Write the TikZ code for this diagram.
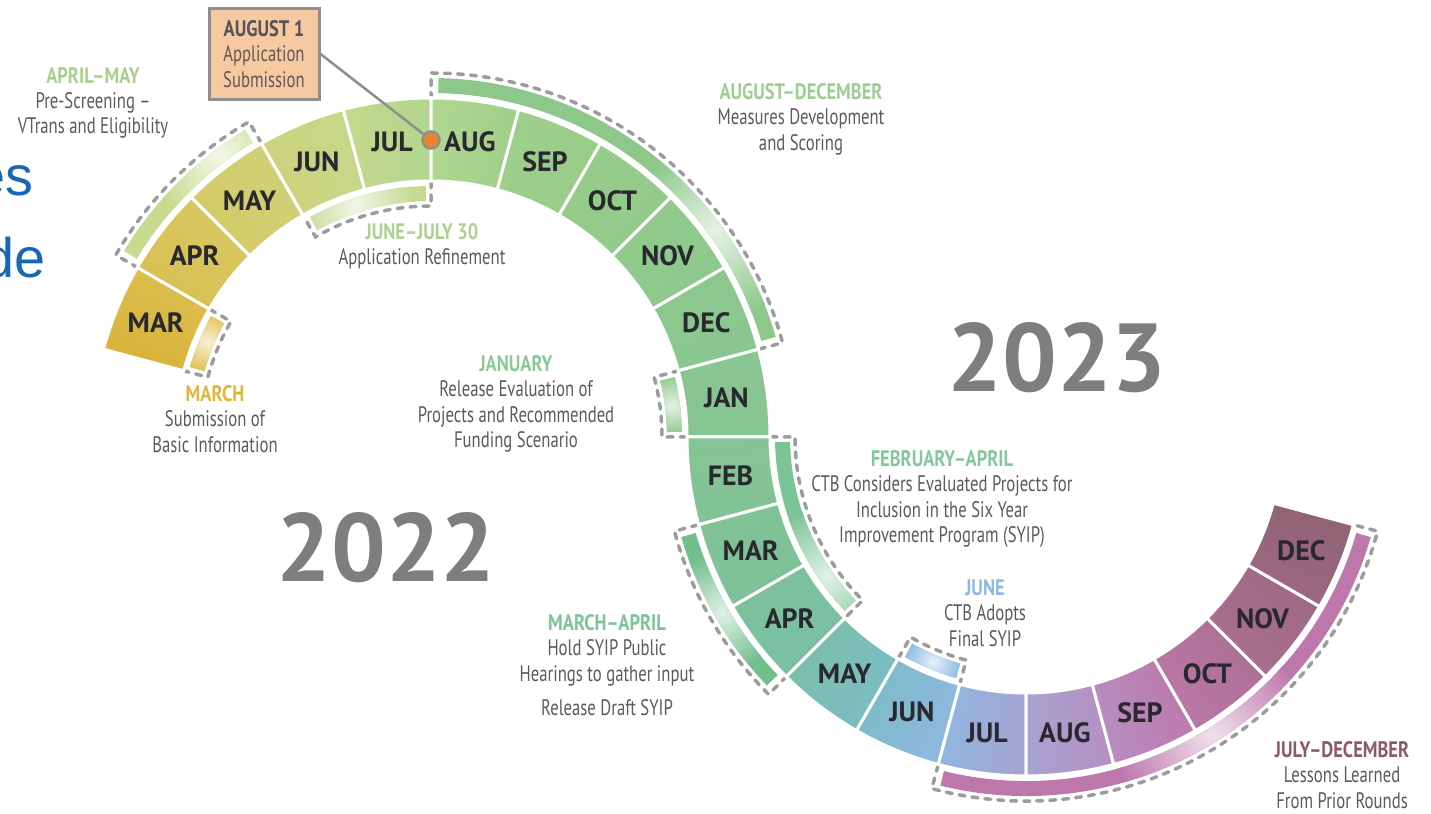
\documentclass[tikz,border=0pt]{standalone}
\usepackage{fontspec}
\setmainfont{PT Sans}
\newfontfamily\condfont[FakeStretch=0.745, BoldFeatures={FakeStretch=0.82}]{PT Sans}
\newfontfamily\bluefont{Liberation Sans}

% month cells, upper arc (2022) and lower arc (2023)
\definecolor{u0}{HTML}{DAB23A}
\definecolor{u1}{HTML}{DBBF50}
\definecolor{u2}{HTML}{D6C964}
\definecolor{u3}{HTML}{CDD27A}
\definecolor{u4}{HTML}{C5D88B}
\definecolor{u5}{HTML}{B2D690}
\definecolor{u6}{HTML}{9ECF8A}
\definecolor{u7}{HTML}{97CC89}
\definecolor{u8}{HTML}{92CA8B}
\definecolor{u9}{HTML}{8DC88D}
\definecolor{u10}{HTML}{89C690}
\definecolor{u11}{HTML}{86C493}
\definecolor{l0}{HTML}{85C494}
\definecolor{l1}{HTML}{81C397}
\definecolor{l2}{HTML}{7DC19A}
\definecolor{l3}{HTML}{7AC0A6}
\definecolor{l4}{HTML}{7CBCC6}
\definecolor{l5}{HTML}{8FB7E1}
\definecolor{l6}{HTML}{A6A4D1}
\definecolor{l7}{HTML}{B78EC1}
\definecolor{l8}{HTML}{BC78A9}
\definecolor{l9}{HTML}{AA6F92}
\definecolor{l10}{HTML}{9E6981}
\definecolor{l11}{HTML}{906273}
% bands
\definecolor{aprmayb}{HTML}{C6DB90}
\definecolor{junjulb}{HTML}{C3DA90}
\definecolor{marchb}{HTML}{E0BF52}
\definecolor{augdecb}{HTML}{8DC78A}
\definecolor{janb}{HTML}{8EC78D}
\definecolor{febaprb}{HTML}{7CC396}
\definecolor{maraprb}{HTML}{72BE8D}
\definecolor{juneb}{HTML}{89B7E2}
\definecolor{juldecb}{HTML}{BD77AB}
% headings
\definecolor{aprmayh}{HTML}{A8D08C}
\definecolor{junjulh}{HTML}{A9D18F}
\definecolor{marchh}{HTML}{DDB63B}
\definecolor{augdech}{HTML}{9CCE93}
\definecolor{janh}{HTML}{8DC996}
\definecolor{febaprh}{HTML}{84C79B}
\definecolor{maraprh}{HTML}{7CC39A}
\definecolor{juneh}{HTML}{8DBAE3}
\definecolor{juldech}{HTML}{8B596D}
% the rest
\definecolor{monthtext}{HTML}{29282F}
\definecolor{notetext}{HTML}{5F595A}
\definecolor{yeargray}{HTML}{7E7E7E}
\definecolor{dashgray}{HTML}{9C9C9C}
\definecolor{boxfill}{HTML}{F7C9A1}
\definecolor{boxline}{HTML}{8E8E8E}
\definecolor{dotfill}{HTML}{E9862C}
\definecolor{bluetext}{HTML}{1767B4}

\tikzset{
  cell/.style={draw=white, line width=3bp},
  monthlab/.style={text=monthtext, font=\bfseries\fontsize{28}{28}\selectfont},
  note/.style={align=center, text=notetext, font=\condfont\fontsize{22.5}{25.5}\selectfont},
  bandline/.style={draw=dashgray, line width=3.5bp, dash pattern=on 6bp off 7bp, line cap=round},
  yearlab/.style={text=yeargray, font=\bfseries\fontsize{97}{97}\selectfont},
  bluetxt/.style={text=bluetext, inner sep=0pt, anchor=base east, font=\bluefont\fontsize{56}{56}\selectfont},
}

\begin{document}
\begin{tikzpicture}[x=1bp, y=1bp]
\useasboundingbox (0,0) rectangle (1431,813);
\clip (0,0) rectangle (1431,813);
\coordinate (C1) at (431,376);
\coordinate (C2) at (1026,376);

% dashed bands beside the arcs
\foreach \cen/\a/\b/\re/\ra/\rb/\rd/\col/\g/\gr in {
  C1/120/150/340/344/359/364/aprmayb/127/70,
  C1/90/120/255/251/236/231/junjulb/108/60,
  C1/150/165/255/251/236/231/marchb/157/30,
  C1/15/90/340/344/359/364/augdecb/36/90,
  C1/0/15/255/251/236/231/janb/7.5/30,
  C2/180/225/255/251/236/231/febaprb/215/70,
  C2/195/225/340/344/359/364/maraprb/210/60,
  C2/240/255/255/251/236/231/juneb/247.5/30,
  C2/255/345/340/344/359/364/juldecb/302/100}{
  \pgfmathsetmacro\fa{\a+1.2}
  \pgfmathsetmacro\fb{\b-1.2}
  \pgfmathsetmacro\rmid{(\ra+\rb)/2}
  \begin{scope}[shift={(\cen)}]
    \begin{scope}
      \clip (\fa:\ra) arc[start angle=\fa, end angle=\fb, radius=\ra] -- (\fb:\rb) arc[start angle=\fb, end angle=\fa, radius=\rb] -- cycle;
      \fill[\col] (-400,-400) rectangle (400,400);
      \shade[inner color=\col!22!white, outer color=\col] (\g:\rmid) circle[radius=\gr];
    \end{scope}
    \draw[bandline] (\a:\re) -- (\a:\rd) arc[start angle=\a, end angle=\b, radius=\rd] -- (\b:\re);
  \end{scope}
}

% 2022
\begin{scope}[shift={(C1)}]
\foreach \nm [count=\i from 0] in {MAR,APR,MAY,JUN,JUL,AUG,SEP,OCT,NOV,DEC,JAN}{
  \pgfmathsetmacro\a{165-15*\i}
  \pgfmathsetmacro\b{\a-15}
  \pgfmathsetmacro\m{\a-7.5}
  \pgfmathsetmacro\sa{\m+180}
  \pgfmathtruncatemacro\j{\i+1}
  \shade[cell, bottom color=u\i, top color=u\j, shading angle=\sa] (\a:339) arc[start angle=\a, end angle=\b, radius=339] -- (\b:256) arc[start angle=\b, end angle=\a, radius=256] -- cycle;
  \node[monthlab] (up\i) at (\m:298) {\nm};
}
\node[circle, fill=dotfill, draw=boxline, line width=2.5bp, minimum size=17bp, inner sep=0pt] (augdot) at (90:297) {};
\end{scope}

% 2023
\begin{scope}[shift={(C2)}]
\foreach \nm [count=\i from 0] in {FEB,MAR,APR,MAY,JUN,JUL,AUG,SEP,OCT,NOV,DEC}{
  \pgfmathsetmacro\a{180+15*\i}
  \pgfmathsetmacro\b{\a+15}
  \pgfmathsetmacro\m{\a+7.5}
  \pgfmathtruncatemacro\j{\i+1}
  \shade[cell, bottom color=l\i, top color=l\j, shading angle=\m] (\a:339) arc[start angle=\a, end angle=\b, radius=339] -- (\b:256) arc[start angle=\b, end angle=\a, radius=256] -- cycle;
  \node[monthlab] (lo\i) at (\m:298) {\nm};
}
\end{scope}

% callout
\node[note, fill=boxfill, draw=boxline, line width=3bp, minimum width=110bp, minimum height=91bp] (augbox) at (264,759) {{\bfseries\color{monthtext!80!white}AUGUST 1}\\Application\\Submission};
\draw[boxline, line width=2.5bp] (augbox.east) -- (augdot);

% notes
\node[note] (aprmay) at (93,710) {{\bfseries\color{aprmayh}APRIL–MAY}\\Pre-Screening –\\VTrans and Eligibility};
\node[note] (junjul) at (422,567) {{\bfseries\color{junjulh}JUNE–JULY 30}\\Application Refinement};
\node[note] (march) at (215,394) {{\bfseries\color{marchh}MARCH}\\Submission of\\Basic Information};
\node[note] (augdec) at (801,694) {{\bfseries\color{augdech}AUGUST–DECEMBER}\\Measures Development\\and Scoring};
\node[note] (january) at (516,409) {{\bfseries\color{janh}JANUARY}\\Release Evaluation of\\Projects and Recommended\\Funding Scenario};
\node[note] (febapr) at (942,314) {{\bfseries\color{febaprh}FEBRUARY–APRIL}\\CTB Considers Evaluated Projects for\\Inclusion in the Six Year\\Improvement Program (SYIP)};
\node[note] (june) at (985,200) {{\bfseries\color{juneh}JUNE}\\CTB Adopts\\Final SYIP};
\node[note] (marapr) at (607,148) {{\bfseries\color{maraprh}MARCH–APRIL}\\Hold SYIP Public\\Hearings to gather input\\[9bp]Release Draft SYIP};
\node[note] (juldec) at (1342,38) {{\bfseries\color{juldech}JULY–DECEMBER}\\Lessons Learned\\From Prior Rounds};

% years
\node[yearlab] (y2022) at (386,265) {2022};
\node[yearlab] (y2023) at (1057,455) {2023};

% cut-off slide text
\node[bluetxt] (es) at (34,617) {es};
\node[bluetxt] (de) at (46,535) {de};
\end{tikzpicture}
\end{document}
